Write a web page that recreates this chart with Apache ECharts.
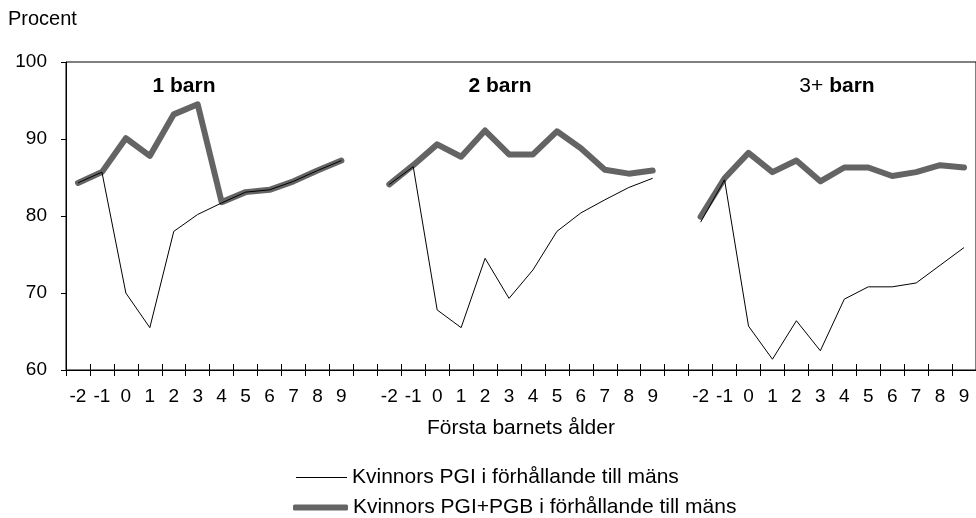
<!DOCTYPE html>
<html>
<head>
<meta charset="utf-8">
<script src="https://cdn.jsdelivr.net/npm/echarts@6/dist/echarts.min.js"></script>
<style>
html,body{margin:0;padding:0;background:#fff;}
#chart{width:976px;height:518px;}
</style>
</head>
<body>
<div id="chart"></div>
<script>
// Tick labels per group (first child's age)
const ageLabels = ['-2','-1','0','1','2','3','4','5','6','7','8','9'];
const groupTitles = ['1 barn', '2 barn', '3+ barn'];
const seriesNames = ['Kvinnors PGI i förhållande till mäns', 'Kvinnors PGI+PGB i förhållande till mäns'];

// Kvinnors PGI i förhållande till mäns (thin line)
const pgi1 = [84.3, 85.7, 70.0, 65.5, 78.0, 80.2, 81.7, 83.1, 83.4, 84.5, 85.9, 87.2];
const pgi2 = [84.1, 86.4, 67.8, 65.5, 74.5, 69.3, 73.0, 78.0, 80.4, 82.1, 83.7, 84.9];
const pgi3 = [79.2, 84.7, 65.7, 61.4, 66.4, 62.5, 69.2, 70.8, 70.8, 71.3, 73.6, 75.9];

// Kvinnors PGI+PGB i förhållande till mäns (thick line)
const pgb1 = [84.3, 85.7, 90.1, 87.8, 93.2, 94.5, 81.8, 83.1, 83.4, 84.5, 85.9, 87.2];
const pgb2 = [84.1, 86.6, 89.3, 87.7, 91.1, 88.0, 88.0, 91.0, 88.8, 86.0, 85.5, 85.9];
const pgb3 = [79.9, 84.9, 88.2, 85.7, 87.2, 84.5, 86.3, 86.3, 85.2, 85.7, 86.6, 86.3];

const yTicks = [60, 70, 80, 90, 100];

// Build one category axis with an empty gap category between groups
const categories = [].concat(ageLabels, [''], ageLabels, [''], ageLabels);
const thinData = [].concat(pgi1, [null], pgi2, [null], pgi3);
const thickData = [].concat(pgb1, [null], pgb2, [null], pgb3);

const FONT = '"Liberation Sans", Arial, Helvetica, sans-serif';
const chart = echarts.init(document.getElementById('chart'), null, {renderer: 'canvas'});

const titleText = (t) => {
  // "3+" in regular weight, "barn" in bold for the third group
  if (t.indexOf('3+') === 0) return '{n|3+} {b|barn}';
  return '{b|' + t + '}';
};

const legendText = {fontFamily: FONT, fontSize: 21, color: '#000'};

chart.setOption({
  animation: false,
  backgroundColor: '#ffffff',
  textStyle: {fontFamily: FONT, color: '#000'},
  grid: {left: 66, right: -4, top: 62, bottom: 148, show: true, borderColor: '#000', borderWidth: 1, backgroundColor: 'transparent'},
  title: [{
    text: 'Procent', left: 3, top: 4,
    textStyle: {fontFamily: FONT, fontSize: 20, fontWeight: 'normal', color: '#000'}
  }].concat(groupTitles.map((t, i) => ({
    text: titleText(t),
    left: [179, 495, 832][i], top: 71, textAlign: 'center',
    textStyle: {
      fontFamily: FONT, fontSize: 21, color: '#000',
      rich: {
        b: {fontFamily: FONT, fontSize: 21, fontWeight: 'bold', color: '#000'},
        n: {fontFamily: FONT, fontSize: 21, fontWeight: 'normal', color: '#000'}
      }
    }
  }))),
  legend: [{
    orient: 'vertical', left: 296, top: 467, padding: 0,
    itemWidth: 51, itemHeight: 1, icon: 'rect',
    textStyle: legendText,
    data: [seriesNames[0]]
  }, {
    orient: 'vertical', left: 293, top: 497, padding: 0,
    itemWidth: 55, itemHeight: 6, icon: 'roundRect',
    textStyle: legendText,
    data: [seriesNames[1]]
  }],
  xAxis: [{
    type: 'category', data: categories, boundaryGap: true,
    name: 'Första barnets ålder', nameLocation: 'middle', nameGap: 48,
    nameTextStyle: {fontFamily: FONT, fontSize: 21, color: '#000'},
    axisLine: {lineStyle: {color: '#000', width: 1}},
    axisTick: {show: true, interval: 0, length: 6, lineStyle: {color: '#000'}},
    axisLabel: {interval: 0, fontFamily: FONT, fontSize: 19, color: '#000', margin: 17},
    splitLine: {show: false}
  }, {
    type: 'category', data: categories, boundaryGap: true, position: 'bottom',
    axisLine: {show: false},
    axisTick: {show: true, inside: true, interval: 0, length: 6, lineStyle: {color: '#000'}},
    axisLabel: {show: false},
    splitLine: {show: false}
  }],
  yAxis: {
    type: 'value', min: yTicks[0], max: yTicks[yTicks.length - 1], interval: 10,
    axisLine: {show: true, lineStyle: {color: '#000'}},
    axisTick: {show: true, length: 5, lineStyle: {color: '#000'}},
    axisLabel: {fontFamily: FONT, fontSize: 19, color: '#000', margin: 19},
    splitLine: {show: false}
  },
  series: [{
    name: seriesNames[0], type: 'line', data: thinData, xAxisIndex: 0,
    symbol: 'none', connectNulls: false, z: 3,
    lineStyle: {color: '#000', width: 1},
    itemStyle: {color: '#000'}
  }, {
    name: seriesNames[1], type: 'line', data: thickData, xAxisIndex: 0,
    symbol: 'none', connectNulls: false, z: 2,
    lineStyle: {color: '#646464', width: 6, cap: 'round', join: 'round'},
    itemStyle: {color: '#646464'}
  }]
});
</script>
</body>
</html>
